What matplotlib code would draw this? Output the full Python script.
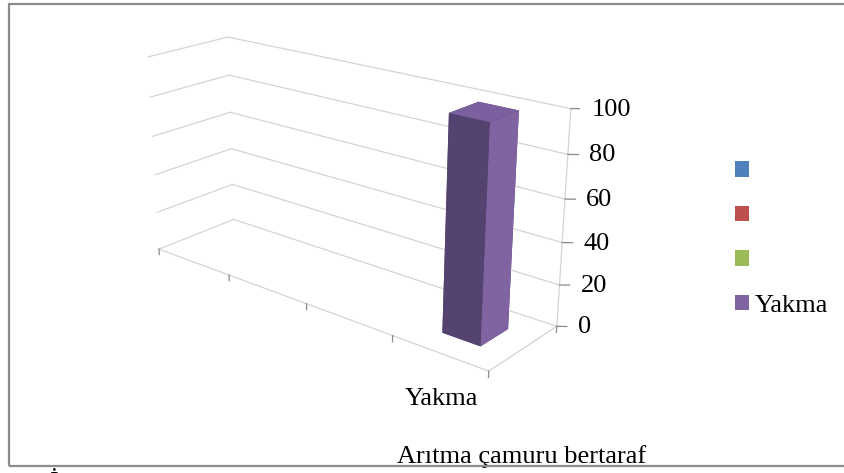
import numpy as np
import matplotlib.pyplot as plt
from matplotlib.patches import Rectangle, Patch
from matplotlib.transforms import ScaledTranslation
from mpl_toolkits.mplot3d import proj3d

plt.rcParams['font.family'] = ['Liberation Serif', 'DejaVu Serif']
plt.rcParams['font.size'] = 19

# data
series_names = ['', '', '', 'Yakma']
series_colors = ['#4F81BD', '#C0504D', '#9BBB59', '#8064A2']
values = [None, None, None, 100]
category = 'Arıtma çamuru bertaraf'
z_ticks = [0, 20, 40, 60, 80, 100]

fig = plt.figure(figsize=(8.45, 4.73), dpi=100)
ax = fig.add_axes([0.1125, 0.0805, 0.574, 1.025], projection='3d', computed_zorder=False)
ax.set_proj_type('persp', focal_length=0.478)
ax.view_init(elev=20, azim=-50)
ax.set_box_aspect((4.1, 1.1, 2.05))
n = len(series_names)
ax.set_xlim(0, n)
ax.set_ylim(0, 1)
ax.set_zlim(0, z_ticks[-1])
ax.set_axis_off()

grid_c = '#d4d4d4'
tick_c = '#8a8a8a'

def px(dx, dy):
    return ax.transData + ScaledTranslation(dx / 100, dy / 100, fig.dpi_scale_trans)

# walls
for z in z_ticks:
    ax.plot([0, n], [1, 1], [z, z], color=grid_c, lw=0.9, zorder=1)
    ax.plot([0, 0], [0, 1], [z, z], color=grid_c, lw=0.9, zorder=1)
# floor + value axis
ax.plot([0, n, n], [0, 0, 1], [0, 0, 0], color=grid_c, lw=0.9, zorder=1)
ax.plot([n, n], [1, 1], [0, z_ticks[-1]], color=grid_c, lw=0.9, zorder=1)

# ticks
for i in range(n + 1):
    ax.plot([i, i], [0, 0], [0, -3], color=tick_c, lw=0.9, zorder=2)
ax.plot([n, n], [1, 1], [0, -3], color=tick_c, lw=0.9, zorder=2)
for z in z_ticks:
    ax.plot([n, n + 0.07], [1, 1.05], [z, z], color=tick_c, lw=0.9, zorder=2)

# bars
w = 1 / (1 + 1.5)
for i, v in enumerate(values):
    if v is None:
        continue
    ax.bar3d(i + (1 - w) / 2, (1 - w) / 2, 0, w, w, v,
             color=['#54436F', '#7A609E', '#54436F', '#54436F', '#54436F', '#8064A2'],
             shade=False, linewidth=0, zorder=5)

# labels placed at projected positions
fig.canvas.draw()
M = ax.get_proj()
for z in z_ticks:
    xs, ys, _ = proj3d.proj_transform(n, 1, z, M)
    fig.text(xs, ys, str(z), transform=px(21, -1), ha='left', va='center')
for i, name in enumerate(series_names):
    if name:
        xs, ys, _ = proj3d.proj_transform(i + 0.5, 0, 0, M)
        fig.text(xs, ys, name, transform=px(2, -52), ha='center', va='baseline')

fig.text(522 / 845, 1 - 463 / 473, category, ha='center', va='baseline')

handles = [Patch(facecolor=c, edgecolor='none') for c in series_colors]
fig.legend(handles, series_names, loc='center left',
           bbox_to_anchor=(735 / 845, 1 - 239 / 473), frameon=False,
           borderpad=0, borderaxespad=0, handlelength=0.53, handleheight=0.53,
           handletextpad=0.22, labelspacing=0.85)

fig.text(53 / 845, 1 - 472 / 473, 'İ', ha='center', va='top')

fig.patches.append(Rectangle((9.5 / 845, 1 - 465.5 / 473), 845 / 845, 461 / 473,
                             transform=fig.transFigure, fill=False,
                             edgecolor='#8c8c8c', lw=1.6, zorder=10))

fig.savefig('out.png', dpi=100)
